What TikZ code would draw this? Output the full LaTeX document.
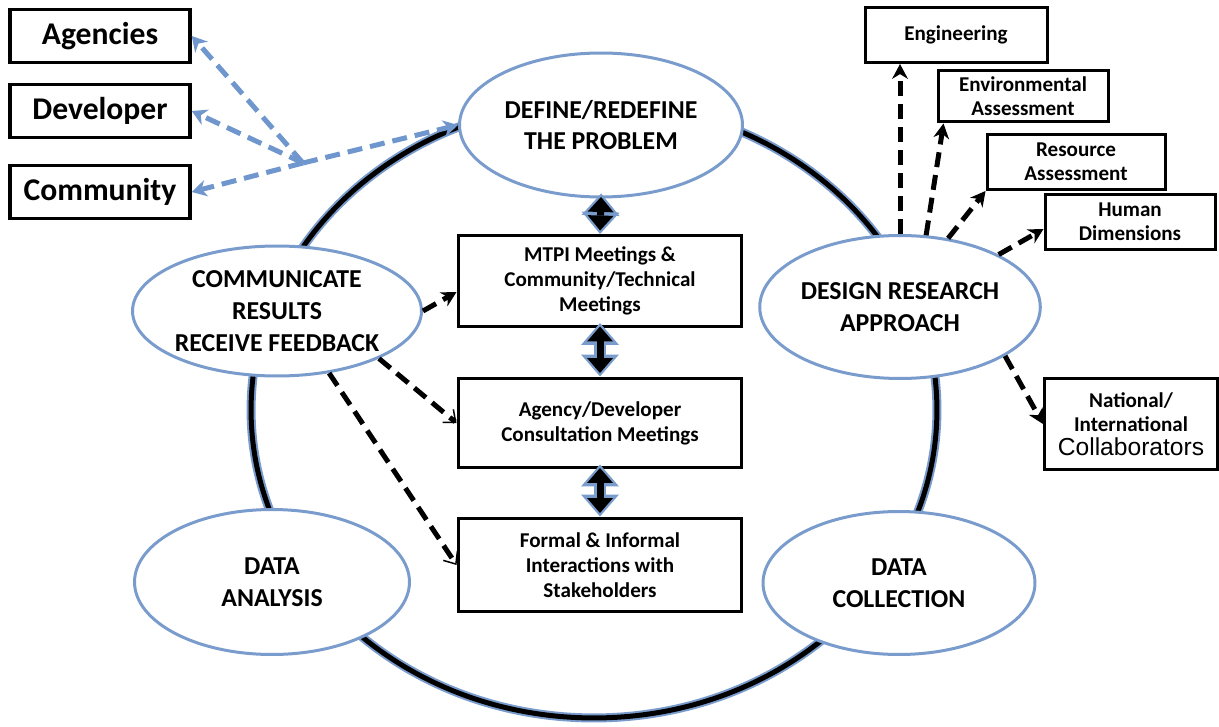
\documentclass[tikz,border=0pt]{standalone}
\usepackage{fontspec}
\setmainfont{Carlito}
\newfontfamily\arialfont{Liberation Sans}
\usetikzlibrary{shapes.geometric,arrows.meta}
\definecolor{ringblue}{RGB}{122,156,204}
\definecolor{dashblue}{RGB}{112,150,206}

\begin{document}
\begin{tikzpicture}[x=0.02cm,y=-0.02cm,
    stage/.style={ellipse, draw=ringblue, line width=0.06cm, fill=white, inner sep=0pt,
      align=center, font=\fontsize{14.7}{18}\selectfont\bfseries},
    meeting/.style={rectangle, draw, line width=0.06cm, fill=white, minimum width=5.68cm,
      align=center, font=\fontsize{12}{14.2}\selectfont\bfseries},
    party/.style={rectangle, draw, line width=0.07cm, minimum width=3.6cm, minimum height=1.06cm,
      font=\fontsize{18}{20}\selectfont\bfseries},
    field/.style={rectangle, draw, line width=0.06cm, fill=white,
      align=center, font=\fontsize{12}{13.5}\selectfont\bfseries},
    outreach/.style={draw, line width=0.1cm, dash pattern=on 0.3cm off 0.16cm,
      -{Stealth[length=0.3cm, width=0.32cm, line width=0pt]}},
    opentip/.style={-{Straight Barb[length=0.2cm, width=0.34cm, line width=0.03cm]}},
    feedback/.style={draw=dashblue, line width=0.1cm, dash pattern=on 0.3cm off 0.16cm,
      -{Stealth[length=0.3cm, width=0.34cm, line width=0pt]}},
    linkout/.style={draw=ringblue, line width=0.24cm, shorten <=-0.1cm,
      {Triangle[width=0.76cm, length=0.44cm, line width=0pt]}-{Triangle[width=0.76cm, length=0.44cm, line width=0pt]}},
    linkin/.style={draw=black, line width=0.14cm, shorten >=0.07cm, shorten <=-0.03cm,
      {Triangle[width=0.52cm, length=0.3cm, line width=0pt]}-{Triangle[width=0.52cm, length=0.3cm, line width=0pt]}}]
  \useasboundingbox (0,0) rectangle (1219,726);

  % research cycle
  \draw[draw=ringblue, double=black, line width=0.04cm, double distance=0.1cm]
    (594,410) ellipse [x radius=6.86cm, y radius=6.16cm];

  \node[stage, minimum width=5.66cm, minimum height=2.88cm] (define) at (601,125) {DEFINE/REDEFINE\\THE PROBLEM};
  \node[stage, minimum width=5.4cm, minimum height=2.6cm] (communicate) at (277,311) {COMMUNICATE\\RESULTS\\RECEIVE FEEDBACK};
  \node[stage, minimum width=5.5cm, minimum height=2.86cm] (design) at (900,307) {DESIGN RESEARCH\\APPROACH};
  \node[stage, minimum width=5.5cm, minimum height=2.9cm] (analysis) at (272,582) {DATA\\ANALYSIS};
  \node[stage, minimum width=5.44cm, minimum height=2.86cm] (collection) at (899,583) {DATA\\COLLECTION};

  % meetings
  \node[meeting, minimum height=1.82cm] (mtpi) at (600,281) {MTPI Meetings \&\\Community/Technical\\Meetings};
  \node[meeting, minimum height=1.8cm] (agency) at (600,423) {Agency/Developer\\Consultation Meetings};
  \node[meeting, minimum height=1.88cm] (formal) at (600,565) {Formal \& Informal\\Interactions with\\Stakeholders};

  \foreach \a/\b in {define/mtpi, mtpi/agency, agency/formal}{
    \draw[linkout] (\a.south) -- (\b.north);
    \draw[linkin] (\a.south) -- (\b.north);
  }

  % audiences
  \node[party] (agencies) at (100,36) {Agencies};
  \node[party] (developer) at (100,111) {Developer};
  \node[party] (community) at (100,192) {Community};
  \coordinate (hub) at (303,163);
  \draw[feedback] (hub) -- (agencies.east);
  \draw[feedback] (hub) -- (developer.east);
  \draw[feedback] (hub) -- (community.east);
  \draw[feedback] (hub) -- (define.west);

  % research fields
  \node[field, minimum width=3.64cm, minimum height=1.1cm] (engineering) at (956,35) {Engineering};
  \node[field, minimum width=3.4cm, minimum height=1.04cm] (environmental) at (1023,96) {Environmental\\Assessment};
  \node[field, minimum width=3.56cm, minimum height=1.1cm] (resource) at (1076,162) {Resource\\Assessment};
  \node[field, minimum width=3.4cm, minimum height=1.1cm] (human) at (1130,222) {Human\\Dimensions};
  \node[field, minimum width=3.46cm, minimum height=1.84cm] (national) at (1131,424)
    {National/\\International\\{\arialfont\mdseries\fontsize{14}{16}\selectfont Collaborators}};

  \draw[outreach] (design.north) -- (design.north |- engineering.south);
  \draw[outreach] (design.70) -- ([xshift=0.14cm]environmental.south west);
  \draw[outreach] (design.55) -- (resource.south west);
  \draw[outreach] (design.28) -- ([yshift=-0.14cm]human.west);
  \draw[outreach] (design.-25) -- (national.west);

  \draw[outreach] (communicate.east) -- ([yshift=-0.22cm]mtpi.west);
  \draw[outreach, opentip] (communicate.-25) -- (agency.west);
  \draw[outreach, opentip] (communicate.-50) -- (formal.west);
\end{tikzpicture}
\end{document}
